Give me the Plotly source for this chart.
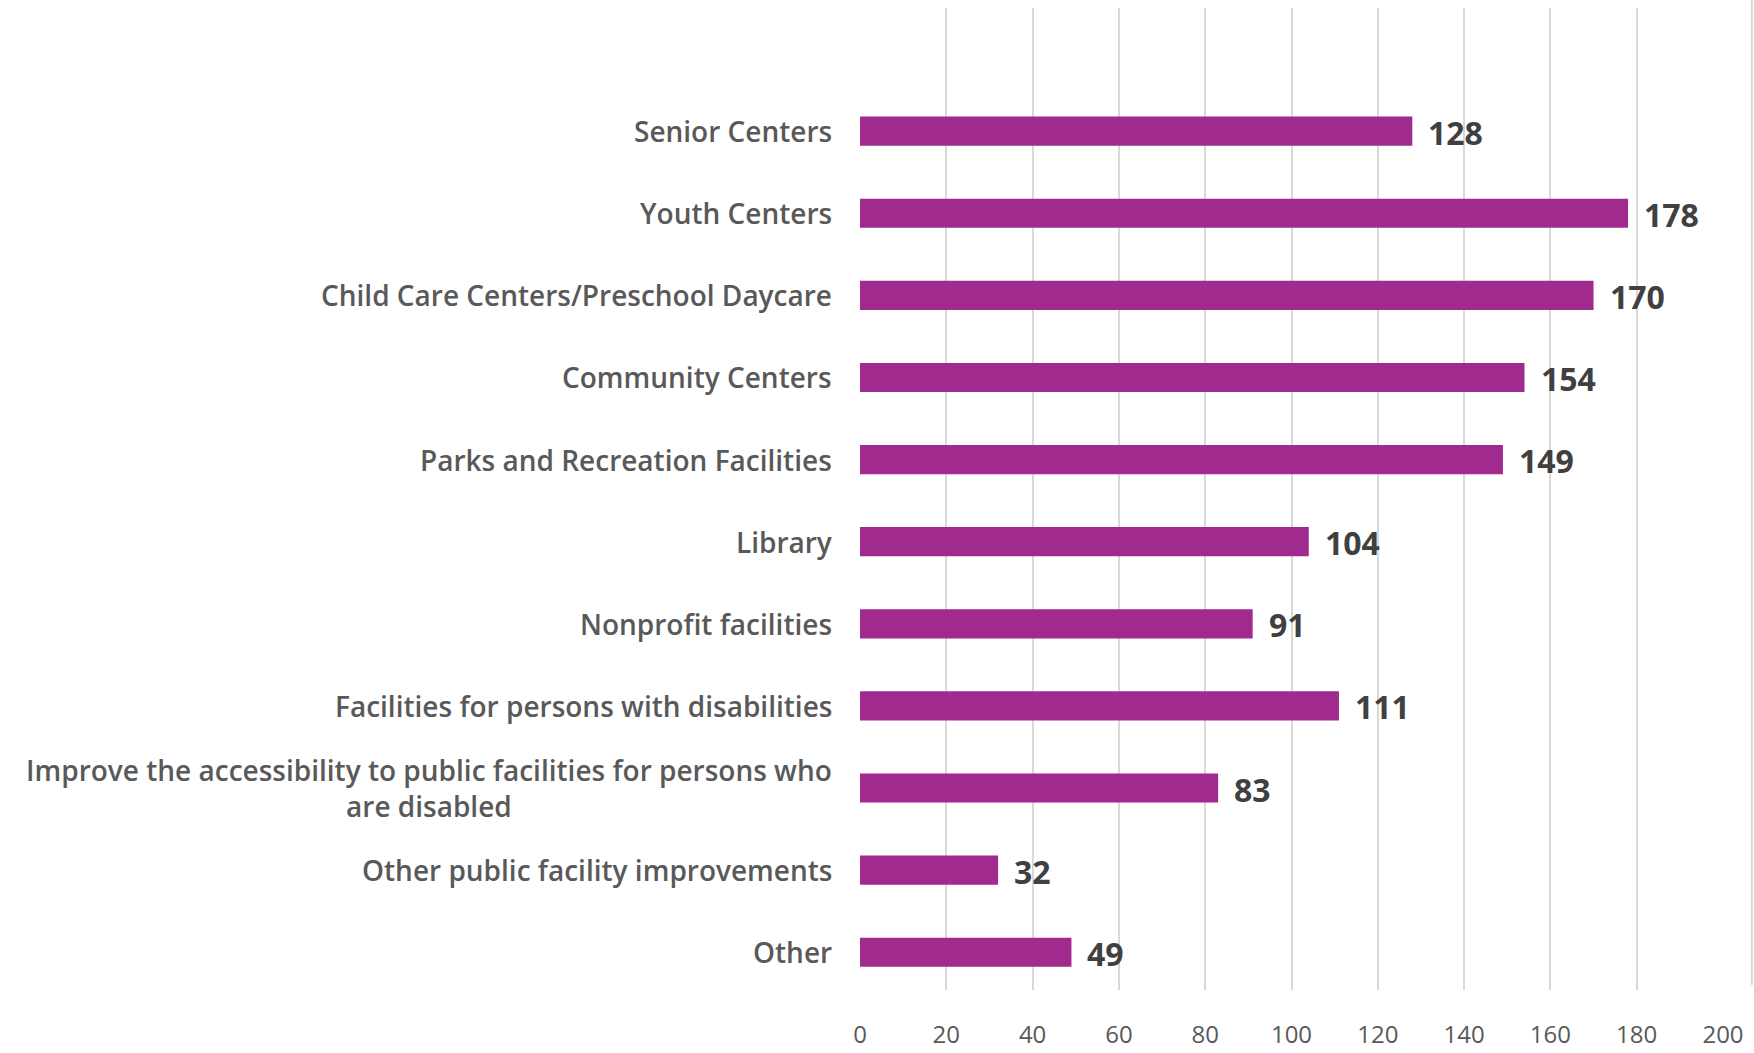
import plotly.graph_objects as go

# Survey responses: public facility needs
categories = [
    "Senior Centers",
    "Youth Centers",
    "Child Care Centers/Preschool Daycare",
    "Community Centers",
    "Parks and Recreation Facilities",
    "Library",
    "Nonprofit facilities",
    "Facilities for persons with disabilities",
    "Improve the accessibility to public facilities for persons who<br>are disabled",
    "Other public facility improvements",
    "Other",
]
values = [128, 178, 170, 154, 149, 104, 91, 111, 83, 32, 49]
x_ticks = [0, 20, 40, 60, 80, 100, 120, 140, 160, 180, 200]

BAR_COLOR = "#A12A8F"
LABEL_COLOR = "#595959"
VALUE_COLOR = "#404040"
FONT = "Open Sans"

# bottom-to-top order on the category axis
order = categories[::-1]

fig = go.Figure(
    go.Bar(
        x=values,
        y=categories,
        orientation="h",
        marker=dict(color=BAR_COLOR, line=dict(width=0)),
        hoverinfo="x+y",
    )
)

# value labels to the right of each bar
for cat, val in zip(categories, values):
    fig.add_annotation(
        x=val, y=cat, xref="x", yref="y",
        text=str(val), showarrow=False,
        xanchor="left", yanchor="middle", xshift=14, yshift=-1,
        font=dict(family=FONT, size=32, color=VALUE_COLOR, weight="bold"),
    )

# category labels, centred line-by-line like a wrapped axis label
for cat in categories:
    fig.add_annotation(
        x=0, y=cat, xref="paper", yref="y",
        text=cat, showarrow=False,
        xanchor="right", yanchor="middle", xshift=-26, align="center",
        font=dict(family=FONT, size=28, color=LABEL_COLOR, weight=600),
    )

# thin frame edge on the far right
fig.add_shape(
    type="line", xref="paper", yref="paper",
    x0=1.0335, x1=1.0335, y0=0.005, y1=1.01,
    line=dict(color="#D9D9D9", width=2),
)

fig.update_layout(
    width=1754, height=1053,
    margin=dict(l=860, r=31, t=8, b=63),
    paper_bgcolor="white", plot_bgcolor="white",
    bargap=0.645,
    showlegend=False,
    font=dict(family=FONT, color=LABEL_COLOR),
)
fig.update_xaxes(
    range=[0, 200], tickvals=x_ticks,
    showgrid=True, gridcolor="#D9D9D9", gridwidth=2,
    zeroline=False, showline=False, automargin=False,
    ticks="", ticklabelstandoff=28,
    tickfont=dict(family=FONT, size=24, color=LABEL_COLOR),
)
fig.update_yaxes(
    type="category", categoryorder="array", categoryarray=order,
    range=[-0.46, 11.5], automargin=False,
    showticklabels=False, showgrid=False, zeroline=False,
    showline=False, ticks="",
)

fig.write_html("out.html")
